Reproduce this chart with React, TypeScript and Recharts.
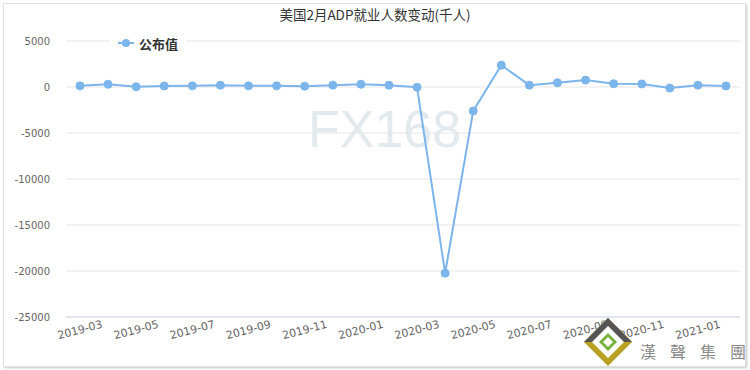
import { LineChart, Line, XAxis, YAxis, CartesianGrid } from "recharts";

const months = [
  "2019-03", "2019-04", "2019-05", "2019-06", "2019-07", "2019-08",
  "2019-09", "2019-10", "2019-11", "2019-12", "2020-01", "2020-02",
  "2020-03", "2020-04", "2020-05", "2020-06", "2020-07", "2020-08",
  "2020-09", "2020-10", "2020-11", "2020-12", "2021-01", "2021-02",
];
const published = [
  130, 300, 27, 110, 130, 200, 125, 125, 80, 200, 300, 190,
  -30, -20236, -2600, 2370, 200, 460, 750, 360, 330, -120, 200, 117,
];
const yTicks = [-25000, -20000, -15000, -10000, -5000, 0, 5000];
const logoChars = ["漢", "聲", "集", "團"];

const data = months.map((m, i) => ({ month: m, value: published[i] }));

const LINE = "#7cb5ec";

// eslint-disable-next-line @typescript-eslint/no-explicit-any
const XTick = ({ x, y, payload }: any) => (
  <text
    x={x}
    y={y + 13}
    textAnchor="middle"
    dominantBaseline="central"
    fontSize={11}
    fill="#666"
    fontFamily="DejaVu Sans"
    transform={`rotate(-15, ${x}, ${y + 13})`}
  >
    {payload.value}
  </text>
);

export default function App() {
  return (
    <div style={{ position: "absolute", left: 0, top: 0, width: 750, height: 370, background: "#fff" }}>
      <div
        style={{
          position: "absolute",
          left: 3,
          top: 3,
          width: 741,
          height: 362,
          border: "1px solid #e2e2e2",
          boxShadow: "1px 1px 2px #c8c8c8",
        }}
      />
      <div
        style={{
          position: "absolute",
          left: 308,
          top: 99,
          fontFamily: "Liberation Sans",
          fontSize: 52,
          color: "#e3eaee",
          lineHeight: "60px",
        }}
      >
        FX168
      </div>
      <div
        style={{
          position: "absolute",
          left: 0,
          top: 4,
          width: 750,
          textAlign: "center",
          fontFamily: "Noto Sans CJK SC",
          fontSize: 13.5,
          color: "#333",
        }}
      >
        美国2月ADP就业人数变动(千人)
      </div>
      <div style={{ position: "absolute", left: 0, top: 0 }}>
        <LineChart width={750} height={370} data={data} margin={{ top: 41, right: 10, bottom: 13, left: 8 }}>
          <CartesianGrid horizontal vertical={false} stroke="#e6e6e6" />
          <XAxis
            dataKey="month"
            interval={1}
            padding={{ left: 14, right: 14 }}
            axisLine={{ stroke: "#ccd6eb" }}
            tickLine={false}
            tickSize={0}
            tickMargin={0}
            height={40}
            tick={<XTick />}
          />
          <YAxis
            domain={[-25000, 5000]}
            ticks={yTicks}
            width={58}
            axisLine={false}
            tickLine={false}
            tickSize={0}
            tickMargin={16}
            tick={{ fontSize: 10, fill: "#666", fontFamily: "DejaVu Sans" }}
          />
          <Line
            dataKey="value"
            stroke={LINE}
            strokeWidth={2}
            dot={{ r: 4, fill: LINE, stroke: LINE, strokeWidth: 1 }}
            activeDot={false}
            isAnimationActive={false}
          />
        </LineChart>
      </div>
      <div
        style={{
          position: "absolute",
          left: 110,
          top: 33,
          display: "flex",
          alignItems: "center",
          background: "#fff",
          padding: "0 8px",
          fontFamily: "Noto Sans CJK SC",
          fontSize: 13,
          fontWeight: 700,
          color: "#333",
          height: 20,
        }}
      >
        <svg width={16} height={10} style={{ marginRight: 5 }}>
          <line x1={0} y1={5} x2={16} y2={5} stroke={LINE} strokeWidth={2} />
          <circle cx={8} cy={5} r={4} fill={LINE} />
        </svg>
        公布值
      </div>
      <svg width={750} height={370} style={{ position: "absolute", left: 0, top: 0, pointerEvents: "none" }}>
        <polygon points="608,318 632,342 608,366 584,342" fill="#b8a020" />
        <polygon points="608,318 632,342 608,342 584,342" fill="#555" />
        <polygon points="608,326 624,342 608,358 592,342" fill="#fff" />
        <polygon points="608,333 617,342 608,351 599,342" fill="#7ab03c" />
        <polygon points="608,337 613,342 608,347 603,342" fill="#fff" />
        {logoChars.map((c, i) => (
          <text key={c} x={640 + i * 30} y={358} fontFamily="Noto Sans CJK TC" fontSize={16} fill="#8a8a8a">
            {c}
          </text>
        ))}
      </svg>
    </div>
  );
}
